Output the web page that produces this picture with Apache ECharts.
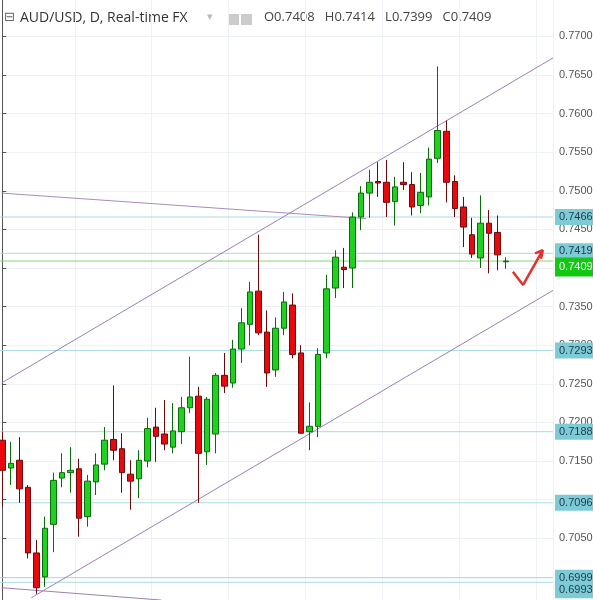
<!DOCTYPE html>
<html>
<head>
<meta charset="utf-8">
<script src="https://cdn.jsdelivr.net/npm/echarts@6/dist/echarts.min.js"></script>
<style>
  html, body { margin: 0; padding: 0; background: #fff; }
  #chart { width: 593px; height: 600px; }
</style>
</head>
<body>
<div id="chart"></div>
<script>
// daily candles, [open, close, low, high]
const candles = [
  [0.7177, 0.7138, 0.7091, 0.7188], [0.7141, 0.7147, 0.7119, 0.7175], [0.7151, 0.7114, 0.7096, 0.7181],
  [0.7116, 0.7031, 0.7024, 0.7119], [0.7031, 0.6986, 0.6978, 0.7048], [0.7000, 0.7063, 0.6987, 0.7078],
  [0.7068, 0.7125, 0.7032, 0.7135], [0.7128, 0.7135, 0.7116, 0.7160], [0.7135, 0.7138, 0.7109, 0.7168],
  [0.7140, 0.7076, 0.7052, 0.7153], [0.7078, 0.7124, 0.7065, 0.7132], [0.7123, 0.7145, 0.7106, 0.7160],
  [0.7146, 0.7177, 0.7138, 0.7194], [0.7178, 0.7164, 0.7151, 0.7248], [0.7166, 0.7135, 0.7109, 0.7186],
  [0.7133, 0.7124, 0.7087, 0.7151], [0.7127, 0.7151, 0.7102, 0.7164], [0.7150, 0.7192, 0.7142, 0.7206],
  [0.7194, 0.7182, 0.7149, 0.7219], [0.7185, 0.7172, 0.7164, 0.7229], [0.7168, 0.7189, 0.7160, 0.7225],
  [0.7188, 0.7219, 0.7172, 0.7233], [0.7219, 0.7233, 0.7212, 0.7285], [0.7234, 0.7160, 0.7096, 0.7246],
  [0.7162, 0.7230, 0.7145, 0.7233], [0.7185, 0.7261, 0.7160, 0.7264], [0.7261, 0.7247, 0.7238, 0.7290],
  [0.7251, 0.7295, 0.7245, 0.7307], [0.7295, 0.7329, 0.7277, 0.7348], [0.7327, 0.7369, 0.7300, 0.7382],
  [0.7370, 0.7316, 0.7313, 0.7443], [0.7317, 0.7264, 0.7246, 0.7345], [0.7268, 0.7322, 0.7259, 0.7336],
  [0.7322, 0.7356, 0.7313, 0.7369], [0.7352, 0.7288, 0.7283, 0.7367], [0.7290, 0.7186, 0.7186, 0.7300],
  [0.7188, 0.7195, 0.7164, 0.7226], [0.7195, 0.7288, 0.7181, 0.7296], [0.7290, 0.7373, 0.7283, 0.7391],
  [0.7374, 0.7414, 0.7361, 0.7423], [0.7401, 0.7398, 0.7374, 0.7426], [0.7400, 0.7466, 0.7374, 0.7472],
  [0.7466, 0.7497, 0.7449, 0.7506], [0.7497, 0.7511, 0.7465, 0.7527], [0.7512, 0.7510, 0.7492, 0.7537],
  [0.7511, 0.7485, 0.7466, 0.7540], [0.7486, 0.7505, 0.7455, 0.7518], [0.7511, 0.7508, 0.7501, 0.7537],
  [0.7508, 0.7479, 0.7468, 0.7524], [0.7481, 0.7498, 0.7471, 0.7523], [0.7492, 0.7541, 0.7481, 0.7556],
  [0.7542, 0.7578, 0.7536, 0.7661], [0.7577, 0.7511, 0.7485, 0.7591], [0.7512, 0.7477, 0.7466, 0.7520],
  [0.7479, 0.7453, 0.7427, 0.7492], [0.7443, 0.7418, 0.7413, 0.7465], [0.7413, 0.7458, 0.7400, 0.7494],
  [0.7458, 0.7445, 0.7393, 0.7475], [0.7446, 0.7417, 0.7397, 0.7468], [0.7408, 0.7409, 0.7399, 0.7414]
];
const emptySlots = 5;

// horizontal levels and how far their price tag is pushed down (px)
const levels = [0.7466, 0.7419, 0.7293, 0.7188, 0.7096, 0.6999, 0.6993];
const levelShift = [0, -2, 0, 0, 0, 0, 8];
const lastPrice = 0.7409;

// trend lines drawn on the chart, [barIndex, price]
const upperChannel = [[-0.1, 0.7251], [64.5, 0.7672]];
const lowerChannel = [[3.4, 0.6973], [64.5, 0.7371]];
const oldResistance = [[-0.1, 0.7497], [42.6, 0.7464]];
const oldSupport = [[-0.1, 0.6986], [18.6, 0.6970]];
const checkMark = [[59.8, 0.7395], [61.0, 0.7378], [63.3, 0.7423]];
const arrowHead = [[62.4, 0.7419], [63.3, 0.7423], [63.1, 0.7412]];

const chart = echarts.init(document.getElementById('chart'));

const categories = candles.map((c, i) => String(i));
for (let i = 0; i < emptySlots; i++) categories.push(String(candles.length + i));

const trend = (data, color, width) => ({
  type: 'line', xAxisIndex: 1, data, symbol: 'none', silent: true, animation: false,
  lineStyle: { color, width: width || 1 }, z: 3
});

const level = (v, shift, lineColor, tag) => ({
  type: 'line', xAxisIndex: 1, data: [[-0.5, v], [64.5, v]], symbol: 'none', silent: true, animation: false,
  lineStyle: { color: lineColor, width: 1 }, z: 2,
  labelLayout: { hideOverlap: false },
  endLabel: Object.assign({
    show: true, distance: 2, offset: [0, shift], formatter: v.toFixed(4),
    fontSize: 11, fontFamily: 'Liberation Sans'
  }, tag)
});

const tagBlue = { color: '#1f3a44', backgroundColor: '#7ecbd8', padding: [3, 4, 2, 4] };
const tagGreen = { color: '#fff', backgroundColor: '#12c812', padding: [5, 4, 3, 4] };

chart.setOption({
  animation: false,
  grid: { left: -2, right: 40, top: -2.3, bottom: -15.5, outerBoundsMode: 'none', containLabel: false },
  xAxis: [
    {
      type: 'category', data: categories, boundaryGap: true,
      axisLine: { show: false }, axisTick: { show: false }, axisLabel: { show: false },
      splitLine: { show: true, interval: 8, lineStyle: { color: '#eef1f6' } }
    },
    { type: 'value', min: -0.5, max: 64.5, show: false }
  ],
  yAxis: {
    type: 'value', position: 'right', min: 0.695, max: 0.775, interval: 0.005,
    axisLine: { show: true, lineStyle: { color: '#555' } },
    axisTick: { show: true, length: 4, lineStyle: { color: '#555' } },
    axisLabel: {
      color: '#555', fontSize: 11, fontFamily: 'Liberation Sans', margin: 6, hideOverlap: false,
      formatter: (v) => (v > 0.696 && v < 0.7745 ? v.toFixed(4) : '')
    },
    splitLine: { lineStyle: { color: '#eef1f6' } }
  },
  graphic: [
    { type: 'text', left: 4, top: 11, style: { text: '⊟', fill: '#666', font: '13px DejaVu Sans' } },
    { type: 'text', left: 20, top: 11, style: { text: 'AUD/USD, D, Real-time FX', fill: '#333', font: '14px "Open Sans"' } },
    { type: 'text', left: 207, top: 12, style: { text: '▾', fill: '#bbb', font: '11px DejaVu Sans' } },
    { type: 'rect', shape: { x: 228, y: 14, width: 11, height: 11 }, style: { fill: '#ccc' } },
    { type: 'rect', shape: { x: 241, y: 14, width: 11, height: 11 }, style: { fill: '#ccc' } },
    { type: 'text', left: 264, top: 11, style: { text: 'O0.7408   H0.7414   L0.7399   C0.7409', fill: '#444', font: '13px "Open Sans"' } }
  ],
  series: [
    {
      type: 'candlestick', data: candles, barWidth: 6, z: 4,
      itemStyle: { color: '#1fd21f', color0: '#e8090e', borderColor: '#0b6b0b', borderColor0: '#6b0a0a', borderWidth: 1 }
    },
    ...levels.map((v, i) => level(v, levelShift[i], '#a8dbe3', tagBlue)),
    level(lastPrice, 6, '#7fd77f', tagGreen),
    trend(upperChannel, '#9c7fb3'),
    trend(lowerChannel, '#9c7fb3'),
    trend(oldResistance, '#a98bbd'),
    trend(oldSupport, '#9c7fb3'),
    trend(checkMark, '#e53030', 2.5),
    trend(arrowHead, '#e53030', 2.5)
  ]
});
</script>
</body>
</html>
